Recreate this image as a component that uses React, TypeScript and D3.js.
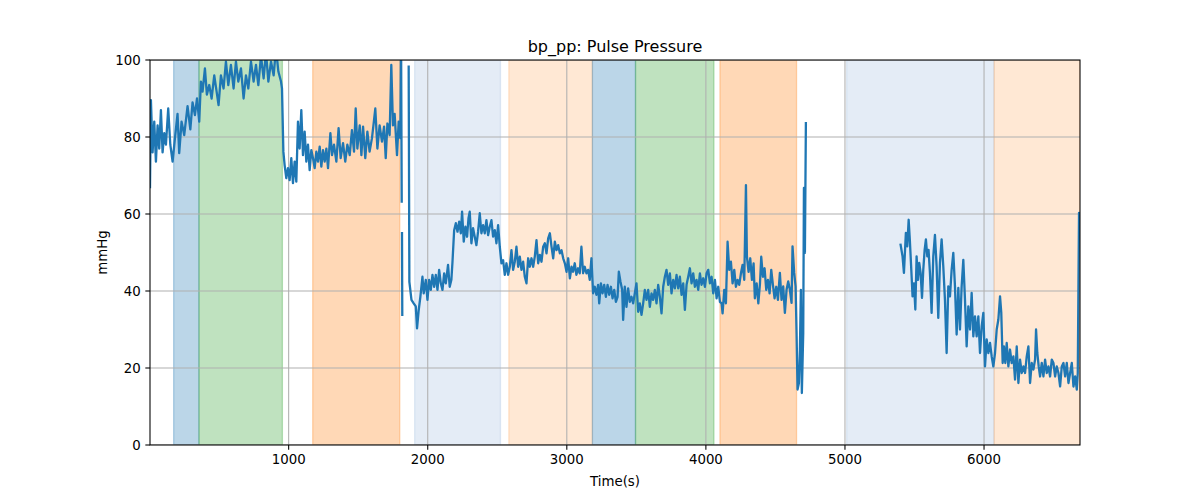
import { useRef, useEffect } from "react";
import * as d3 from "d3";

// time (s) and pulse pressure (mmHg); null breaks the line
const times: number[] = [
  3, 9.6, 21.6, 33.6, 45.6, 57.6, 69.5, 81.5, 93.5, 105.5, 117.5, 134, 149, 165.5, 182, 201, 213, 230, 249, 273,
  293, 309, 326, 341, 357, 369, 381, 398, 412, 429, 446, 465, 482, 496, 513, 532, 549, 566, 585, 604,
  621, 638, 657, 676, 693, 710, 729, 748, 765, 782, 801, 820, 837, 854, 873, 892, 909, 926, 945, 952,
  962, 971, 983, 995, 1007, 1019, 1031, 1043, 1055, 1067, 1079, 1091, 1103, 1115, 1127, 1139, 1151, 1163, 1175, 1187,
  1199, 1211, 1223, 1235, 1247, 1259, 1271, 1283, 1300, 1312, 1326, 1343, 1359, 1374, 1391, 1407, 1422, 1439, 1455, 1470,
  1482, 1494, 1511, 1523, 1535, 1551, 1566, 1582, 1599, 1611, 1623, 1638, 1654, 1671, 1686, 1698, 1710, 1726, 1738, 1750,
  1762, 1779, 1791, 1803, 1808, 1813, 1814, 1815, 1817, 1840, 1863, 1868, 1883, 1899, 1914, 1923, 1935, 1947, 1962, 1971,
  1986, 1998, 2010, 2022, 2034, 2046, 2058, 2070, 2082, 2094, 2106, 2118, 2130, 2146, 2158, 2170, 2178, 2190, 2202, 2214,
  2226, 2238, 2247, 2259, 2271, 2283, 2293, 2302, 2314, 2326, 2338, 2350, 2362, 2374, 2386, 2398, 2410, 2422, 2434, 2446,
  2458, 2470, 2482, 2494, 2506, 2518, 2530, 2542, 2554, 2566, 2578, 2590, 2602, 2614, 2626, 2638, 2650, 2662, 2674, 2686,
  2698, 2710, 2722, 2734, 2746, 2758, 2770, 2782, 2794, 2806, 2818, 2830, 2842, 2854, 2866, 2878, 2890, 2902, 2914, 2926,
  2938, 2950, 2962, 2974, 2986, 2998, 3010, 3022, 3034, 3045, 3057, 3069, 3081, 3093, 3105, 3117, 3129, 3141, 3153, 3165,
  3177, 3189, 3201, 3213, 3225, 3233, 3245, 3257, 3269, 3281, 3293, 3305, 3317, 3329, 3341, 3353, 3365, 3374, 3386, 3398,
  3405, 3417, 3429, 3441, 3453, 3465, 3477, 3489, 3501, 3513, 3525, 3537, 3549, 3561, 3573, 3585, 3597, 3609, 3621, 3633,
  3645, 3657, 3669, 3681, 3693, 3705, 3717, 3729, 3741, 3753, 3765, 3777, 3789, 3801, 3813, 3825, 3837, 3849, 3861, 3873,
  3885, 3897, 3909, 3921, 3933, 3945, 3957, 3969, 3981, 3993, 4005, 4017, 4029, 4041, 4053, 4065, 4077, 4089, 4101, 4113,
  4120, 4132, 4144, 4156, 4168, 4180, 4192, 4204, 4216, 4228, 4240, 4252, 4264, 4276, 4288, 4295, 4307, 4319, 4331, 4343,
  4352, 4365, 4377, 4389, 4398, 4410, 4422, 4434, 4446, 4458, 4470, 4482, 4494, 4506, 4518, 4532, 4544, 4556, 4568, 4580,
  4592, 4604, 4616, 4623, 4635, 4645, 4652, 4659, 4669, 4676, 4683, 4690, 4700, 4705, 4712, 4719, 4800,
  5400, 5414, 5424, 5438, 5448, 5458, 5467, 5477, 5486, 5496, 5506, 5515, 5525, 5534, 5544, 5554, 5563, 5573, 5582, 5592,
  5601, 5611, 5623, 5635, 5647, 5659, 5671, 5683, 5695, 5707, 5719, 5731, 5743, 5755, 5767, 5779, 5791, 5803, 5815, 5827,
  5839, 5851, 5863, 5875, 5887, 5899, 5911, 5923, 5935, 5947, 5959, 5971, 5983, 5995, 6007, 6019, 6031, 6043, 6055, 6067,
  6079, 6091, 6103, 6115, 6124, 6134, 6143, 6153, 6163, 6175, 6187, 6199, 6211, 6223, 6235, 6247, 6259, 6271, 6283, 6295,
  6307, 6319, 6331, 6343, 6355, 6367, 6374, 6383, 6393, 6403, 6415, 6427, 6439, 6451, 6463, 6475, 6487, 6499, 6511, 6523,
  6535, 6547, 6559, 6571, 6583, 6595, 6607, 6619, 6631, 6643, 6655, 6667, 6674, 6683, 6690,
];

const pulsePressure: (number | null)[] = [
  67, 89.6, 76, 84, 73.6, 83, 77, 87, 76, 81, 78, 87.4, 78, 73.6, 79.6, 86, 75.8, 84, 80.5, 88,
  82, 89, 85.7, 90, 84, 94.4, 91.8, 97.8, 91, 93.5, 90, 96, 91.8, 88.3, 96, 92.6, 99.6, 93.5, 98.7, 92.6,
  99.6, 94.4, 97.8, 90, 96, 92.6, 99.6, 94.4, 98.7, 93.5, 101, 95.2, 102, 94.4, 99.6, 96, 103, 97, 94.4, 92.6,
  76.2, 72.7, 69.3, 71.9, 68.8, 74.5, 68, 73.6, 68.4, 84, 77, 87, 75.3, 81.4, 73.6, 78, 71.4, 76.6, 74.5, 71.9,
  76.2, 73.6, 77.5, 72.3, 76.6, 73.6, 77, 71.9, 81, 75.3, 78, 73.6, 82.3, 74.5, 78.4, 73.6, 78, 75.3, 81.8, 76.2,
  87.4, 77, 83, 75.3, 82.7, 74.5, 81.4, 76.2, 79.7, 83.5, 87.4, 77, 83, 78.8, 82.7, 74.5, 83.5, 80.5, 98.7, 83,
  86, 75.3, 84, 79.7, 108, 63.2, null, 55, 33.8, null, 98.3, 42.4, 37.7, 36.8, 36, 30.3, 35, 38.5, 43.7, 39.4,
  42.9, 37.7, 42.9, 40.3, 44.2, 41.1, 44.2, 40.3, 45.5, 42, 40.3, 44.6, 42, 46.8, 41.1, 42.9, 47.6, 55.8, 57.6, 55.4,
  58, 55, 60.6, 52.8, 56.7, 54.1, 58.9, 60.6, 52.4, 56.3, 54.1, 51.9, 55.4, 60.2, 55, 57.1, 55, 58.4, 54.5, 56.7,
  58.4, 54.1, 55.8, 52.4, 57.1, 51.5, 47.2, 48, 44.2, 47.2, 44.2, 46.3, 50.6, 45.5, 47.6, 51.5, 46.3, 48.9, 45.5, 47.6,
  43.7, 42, 48.5, 46.3, 48.5, 46.3, 49, 53.2, 47.2, 49.4, 47.6, 51.5, 52.4, 49.8, 53.7, 55, 51.5, 48.5, 52.8, 50.6,
  51.9, 49.8, 50.6, 48.5, 47.2, 45, 48.5, 43.3, 46.3, 45, 47.2, 44.2, 45.9, 44.6, 51.5, 44.6, 46.3, 44.6, 45.5, 42.9,
  48.5, 39.4, 41.1, 39, 41.6, 36.8, 42, 39.4, 41.6, 38.5, 41.6, 39, 41.1, 38.1, 40.3, 37.2, 38.5, 45, 42.4, 40.3,
  32.5, 41.1, 35.9, 40.7, 37.2, 38.5, 36.8, 39.4, 42, 34.6, 36.8, 33.8, 36.8, 40.3, 37.7, 40.3, 35.9, 39.4, 37.7, 40.3,
  36.8, 41.6, 38.5, 34.2, 41.1, 43.7, 45.5, 41.6, 44.6, 39.4, 42.9, 40.7, 44.2, 40.7, 43.7, 39, 42, 35.1, 41.6, 43.7,
  45.9, 42, 44.6, 41.1, 42.9, 40.3, 44.6, 41.6, 43.3, 41.1, 44.6, 45.5, 42, 43.7, 39.4, 42.9, 38.1, 41.1, 37.2, 36.8,
  34.2, 40.3, 36.8, 52.8, 45.5, 47.6, 42, 45.5, 41.1, 42.9, 41.6, 44.6, 46.8, 42.9, 67.5, 48.9, 45, 48.5, 42.9, 47.2,
  38.1, 42, 36.8, 42, 48.9, 43.7, 45.9, 40.3, 42.9, 39.4, 45.5, 41.6, 38.1, 41.1, 37.7, 44.7, 37.7, 41.2, 34.3, 40.3,
  42.5, 40.3, 36.9, 51.6, 44.7, 41.2, 29.1, 14.4, 16.1, 24.8, 40.3, 13.5, 29.1, 66.8, 49.9, 83.6, null,
  52, 49, 44.7, 55.1, 51.6, 58.5, 52.9, 45.5, 38.6, 42, 35.2, 49, 42.9, 47.3, 44.7, 38.2, 45.5, 50.7, 53.4, 49,
  50.7, 44.7, 34.3, 49, 54.6, 46.4, 33, 47.3, 53.4, 46.4, 37.7, 23.9, 41.2, 38.6, 45.5, 49.9, 41.2, 28.7, 40.8, 30,
  41.2, 48.1, 37.7, 25.6, 36, 30, 39.5, 28.2, 33.4, 28.2, 33.4, 23.9, 30.8, 34.3, 20.4, 27.4, 23.9, 26.5, 23, 20.4,
  23.9, 30, 32.6, 38.6, 34.3, 21.3, 25.6, 21.3, 26.5, 20.4, 24.8, 21.3, 23, 17, 25.6, 16.1, 22.2, 18.7, 20.4, 18.7,
  23, 25.6, 16.1, 21.3, 19.6, 22.2, 30, 23.9, 20.4, 17.8, 21.3, 17.8, 22.2, 18.7, 20.4, 17.8, 22.2, 21.3, 17.8, 20.4,
  18.7, 15.2, 20.4, 21.3, 17.8, 21.3, 16.1, 18.7, 21.3, 15.2, 17.8, 14.4, 18.7, 60.3, 60,
];

// shaded phases
const spanStart = [173, 355, 1173, 1906, 2583, 3184, 3494, 4101, 5012, 6072];
const spanEnd = [355, 955, 1799, 2523, 3184, 3494, 4058, 4652, 6072, 6690];
const spanColor = ["#1f77b4", "#2ca02c", "#ff7f0e", "#78a0d2", "#ff7f0e", "#1f77b4", "#2ca02c", "#ff7f0e", "#78a0d2", "#ff7f0e"];
const spanAlpha = [0.3, 0.3, 0.3, 0.2, 0.18, 0.3, 0.3, 0.3, 0.2, 0.18];

const xTicks = [1000, 2000, 3000, 4000, 5000, 6000];
const yTicks = [0, 20, 40, 60, 80, 100];

export default function App() {
  const svgRef = useRef<SVGSVGElement>(null);

  useEffect(() => {
    if (!svgRef.current) return;
    const svg = d3.select(svgRef.current);
    svg.selectAll("*").remove();

    const W = 1200, H = 500;
    const m = { left: 150, right: 1080, top: 60, bottom: 445 };
    const font = "'DejaVu Sans', sans-serif";

    const x = d3.scaleLinear().domain([3, 6690]).range([m.left, m.right]);
    const y = d3.scaleLinear().domain([0, 100]).range([m.bottom, m.top]);

    svg.append("rect").attr("width", W).attr("height", H).attr("fill", "#fff");

    svg.append("defs").append("clipPath").attr("id", "plotClip")
      .append("rect")
      .attr("x", m.left).attr("y", m.top)
      .attr("width", m.right - m.left).attr("height", m.bottom - m.top);

    const plot = svg.append("g").attr("clip-path", "url(#plotClip)");

    // spans
    spanStart.forEach((s, i) => {
      plot.append("rect")
        .attr("x", x(s)).attr("y", m.top)
        .attr("width", x(spanEnd[i]) - x(s))
        .attr("height", m.bottom - m.top)
        .attr("fill", spanColor[i]).attr("fill-opacity", spanAlpha[i])
        .attr("stroke", spanColor[i]).attr("stroke-opacity", spanAlpha[i])
        .attr("stroke-width", 1.3);
    });

    // grid
    xTicks.forEach(t => {
      plot.append("line")
        .attr("x1", x(t)).attr("x2", x(t))
        .attr("y1", m.top).attr("y2", m.bottom)
        .attr("stroke", "#b0b0b0").attr("stroke-width", 1.07);
    });
    yTicks.forEach(t => {
      plot.append("line")
        .attr("x1", m.left).attr("x2", m.right)
        .attr("y1", y(t)).attr("y2", y(t))
        .attr("stroke", "#b0b0b0").attr("stroke-width", 1.07);
    });

    // series
    const pts = times.map((t, i) => ({ t, v: pulsePressure[i] }));
    const line = d3.line<{ t: number; v: number | null }>()
      .defined(d => d.v != null)
      .x(d => x(d.t))
      .y(d => y(d.v as number));
    plot.append("path")
      .attr("d", line(pts))
      .attr("fill", "none")
      .attr("stroke", "#1f77b4")
      .attr("stroke-width", 2.3)
      .attr("stroke-linejoin", "round")
      .attr("stroke-linecap", "square");

    // spines
    svg.append("rect")
      .attr("x", m.left).attr("y", m.top)
      .attr("width", m.right - m.left).attr("height", m.bottom - m.top)
      .attr("fill", "none").attr("stroke", "#000").attr("stroke-width", 1.07);

    // ticks
    xTicks.forEach(t => {
      svg.append("line")
        .attr("x1", x(t)).attr("x2", x(t))
        .attr("y1", m.bottom).attr("y2", m.bottom + 4.67)
        .attr("stroke", "#000").attr("stroke-width", 1.07);
      svg.append("text")
        .attr("x", x(t)).attr("y", m.bottom + 9.3)
        .attr("dy", "0.76em")
        .attr("text-anchor", "middle")
        .attr("font-family", font).attr("font-size", 13.33)
        .text(String(t));
    });
    yTicks.forEach(t => {
      svg.append("line")
        .attr("x1", m.left - 4.67).attr("x2", m.left)
        .attr("y1", y(t)).attr("y2", y(t))
        .attr("stroke", "#000").attr("stroke-width", 1.07);
      svg.append("text")
        .attr("x", m.left - 9.3).attr("y", y(t))
        .attr("dy", "0.36em")
        .attr("text-anchor", "end")
        .attr("font-family", font).attr("font-size", 13.33)
        .text(String(t));
    });

    // labels
    svg.append("text")
      .attr("x", (m.left + m.right) / 2).attr("y", 52)
      .attr("text-anchor", "middle")
      .attr("font-family", font).attr("font-size", 16)
      .text("bp_pp: Pulse Pressure");
    svg.append("text")
      .attr("x", (m.left + m.right) / 2).attr("y", 486)
      .attr("text-anchor", "middle")
      .attr("font-family", font).attr("font-size", 13.33)
      .text("Time(s)");
    svg.append("text")
      .attr("transform", `translate(107,${(m.top + m.bottom) / 2}) rotate(-90)`)
      .attr("text-anchor", "middle")
      .attr("font-family", font).attr("font-size", 13.33)
      .text("mmHg");
  }, []);

  return (
    <div style={{ position: "fixed", left: 0, top: 0 }}>
      <svg ref={svgRef} width={1200} height={500} style={{ display: "block" }} />
    </div>
  );
}
